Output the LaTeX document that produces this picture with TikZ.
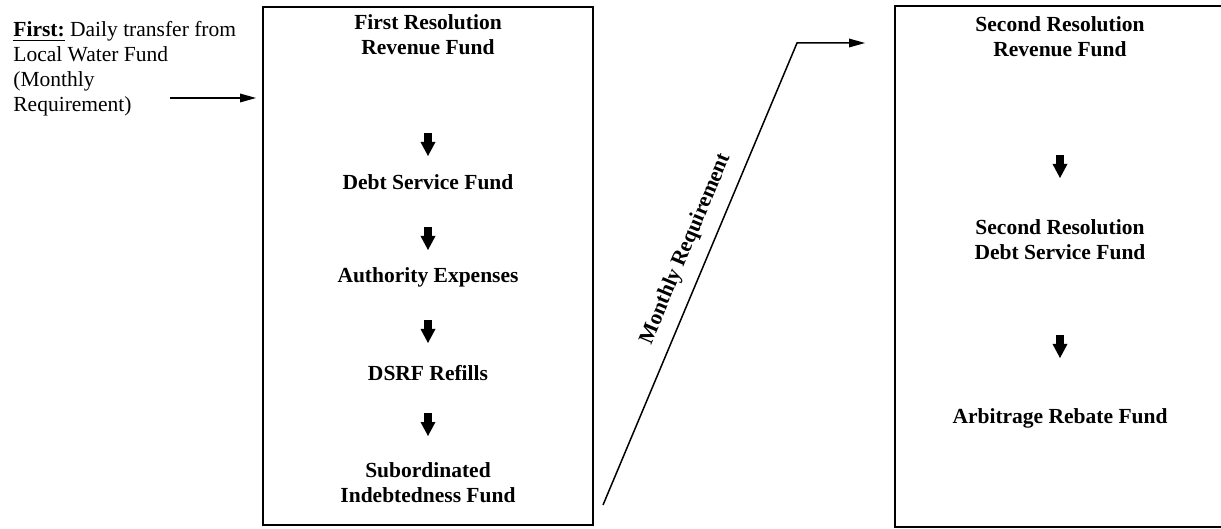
\documentclass[tikz,border=0pt]{standalone}
\usepackage{fontspec}
\setmainfont{Liberation Serif}
\usetikzlibrary{arrows.meta}
\begin{document}
\begin{tikzpicture}[x=0.5pt,y=-0.5pt,
  lbl/.style={font=\fontsize{10.75}{12.5}\selectfont\bfseries, align=center, inner sep=0pt, anchor=base},
  fundbox/.style={draw, line width=1pt, inner sep=0pt},
  blockarrow/.style={line width=4pt, -{Triangle[length=7pt,width=7.5pt,line width=0pt]}},
  flow/.style={line width=0.75pt, -{Triangle[length=8pt,width=4.5pt,line width=0pt]}}]
\useasboundingbox (0,0) rectangle (1221,529);
% boxes
\node[fundbox, minimum width=165pt, minimum height=259pt] (box1) at (428,266) {};
\node[fundbox, minimum width=165pt, minimum height=260.5pt] (box2) at (1060,266.5) {};
% source text (anchor base = baseline of last line)
\node[font=\fontsize{10.75}{12.5}\selectfont, align=left, anchor=base west, inner sep=0pt] (src) at (13,112)
  {\underline{\textbf{First:}} Daily transfer from\\Local Water Fund\\(Monthly\\Requirement)};
% box 1 labels
\node[lbl] (rf1) at (428,55) {First Resolution\\Revenue Fund};
\node[lbl] (dsf) at (428,190) {Debt Service Fund};
\node[lbl] (ae) at (428,283) {Authority Expenses};
\node[lbl] (dsrf) at (428,380) {DSRF Refills};
\node[lbl] (sif) at (428,502) {Subordinated\\Indebtedness Fund};
% box 2 labels
\node[lbl] (rf2) at (1060,57) {Second Resolution\\Revenue Fund};
\node[lbl] (dsf2) at (1060,260) {Second Resolution\\Debt Service Fund};
\node[lbl] (arf) at (1060,423) {Arbitrage Rebate Fund};
% block arrows
\coordinate (a1s) at (428,133); \coordinate (a1e) at (428,156);
\coordinate (a2s) at (428,227); \coordinate (a2e) at (428,250);
\coordinate (a3s) at (428,320); \coordinate (a3e) at (428,343);
\coordinate (a4s) at (428,413); \coordinate (a4e) at (428,436);
\coordinate (b1s) at (1060,155); \coordinate (b1e) at (1060,178);
\coordinate (b2s) at (1060,335); \coordinate (b2e) at (1060,358);
\draw[blockarrow] (a1s) -- (a1e);
\draw[blockarrow] (a2s) -- (a2e);
\draw[blockarrow] (a3s) -- (a3e);
\draw[blockarrow] (a4s) -- (a4e);
\draw[blockarrow] (b1s) -- (b1e);
\draw[blockarrow] (b2s) -- (b2e);
% inflow arrow
\coordinate (inA) at (170,98);
\draw[flow, shorten >=3pt] (inA) -- (inA -| box1.west);
% monthly requirement connector
\coordinate (mrS) at (603,505);
\coordinate (mrB) at (797,43);
\draw[flow, shorten >=14.5pt] (mrS) -- (mrB) -- (mrB -| box2.west);
\node[lbl, anchor=center, rotate=67.22] (mr) at (686,249) {Monthly Requirement};
\end{tikzpicture}
\end{document}
